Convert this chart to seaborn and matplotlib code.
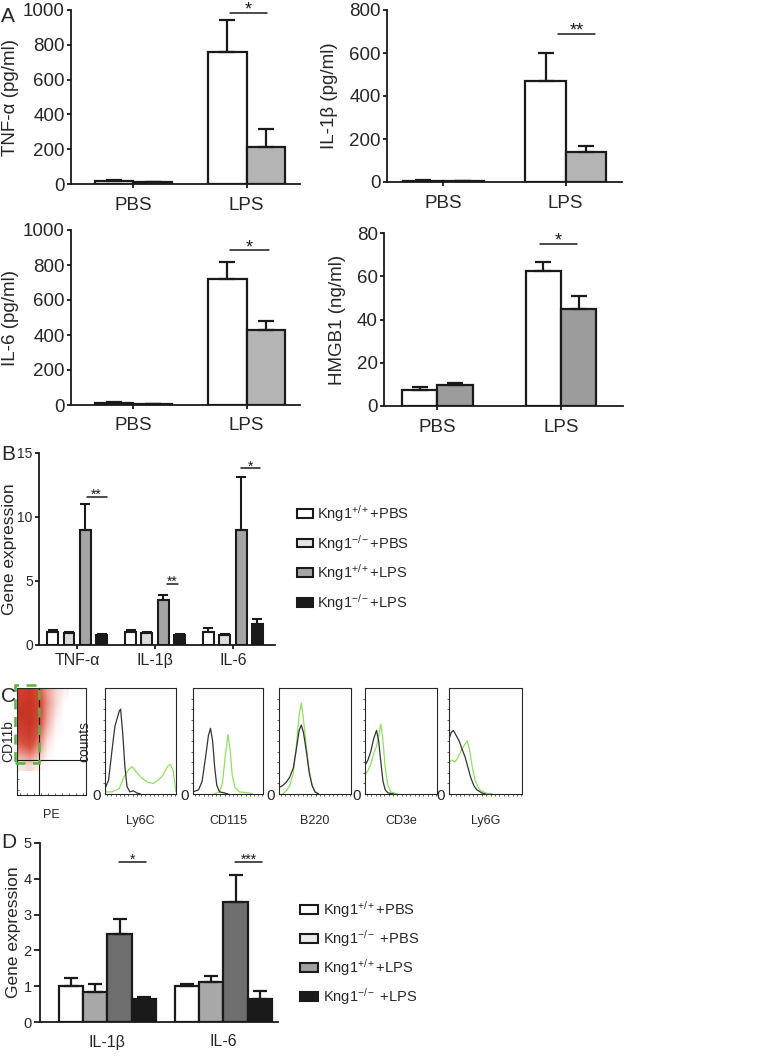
import numpy as np
import pandas as pd
import matplotlib
matplotlib.use("Agg")
import matplotlib.pyplot as plt
import matplotlib.ticker as tic
from matplotlib.patches import Patch, Rectangle
from matplotlib.colors import LinearSegmentedColormap
import seaborn as sns

# ---------------- data ----------------
A_CATS = ["PBS", "LPS"]
A_GROUPS = ["Kng1+/+", "Kng1-/-"]

TNF_MEAN = [[15, 760], [10, 215]]
TNF_SEM = [[6, 180], [3, 100]]
IL1B_MEAN = [[5, 470], [3, 140]]
IL1B_SEM = [[3, 130], [2, 27]]
IL6_MEAN = [[10, 720], [5, 430]]
IL6_SEM = [[6, 95], [3, 50]]
HMGB1_MEAN = [[7.6, 62.3], [9.5, 45.0]]
HMGB1_SEM = [[1.2, 4.3], [1.0, 6.0]]

B_CATS = ["TNF-α", "IL-1β", "IL-6"]
B_GROUPS = ["Kng1$^{+/+}$+PBS", "Kng1$^{-/-}$+PBS", "Kng1$^{+/+}$+LPS", "Kng1$^{-/-}$+LPS"]
B_MEAN = [[1.05, 1.05, 1.0], [0.9, 0.9, 0.8], [9.0, 3.55, 9.0], [0.8, 0.8, 1.65]]
B_SEM = [[0.1, 0.1, 0.3], [0.1, 0.1, 0.05], [2.0, 0.35, 4.1], [0.05, 0.05, 0.35]]

D_CATS = ["IL-1β", "IL-6"]
D_GROUPS = ["Kng1$^{+/+}$+PBS", "Kng1$^{-/-}$ +PBS", "Kng1$^{+/+}$+LPS", "Kng1$^{-/-}$ +LPS"]
D_MEAN = [[1.0, 1.0], [0.85, 1.12], [2.47, 3.35], [0.63, 0.64]]
D_SEM = [[0.22, 0.06], [0.22, 0.16], [0.4, 0.77], [0.06, 0.23]]

# significance: (left x, right x, y, label) in data units
TNF_SIG = [(0.85, 1.18, 985, "*")]
IL1B_SIG = [(0.94, 1.24, 690, "**")]
IL6_SIG = [(0.85, 1.2, 885, "*")]
HMGB1_SIG = [(0.83, 1.13, 75, "*")]
B_SIG = [(0.12, 0.38, 11.6, "**"), (1.15, 1.3, 4.8, "**"), (2.1, 2.35, 13.8, "*")]
D_SIG = [(0.1, 0.33, 4.47, "*"), (1.1, 1.33, 4.47, "***")]

# flow cytometry, panel C
DOT_DENSITY = [
    [0.85, 0.95, 0.7, 0.35, 0.15, 0.05],
    [0.95, 1.0, 0.8, 0.4, 0.15, 0.0],
    [1.0, 1.0, 0.8, 0.35, 0.1, 0.0],
    [0.9, 1.0, 0.75, 0.3, 0.05, 0.0],
    [0.8, 0.9, 0.6, 0.2, 0.02, 0.0],
    [0.6, 0.75, 0.45, 0.1, 0.0, 0.0],
    [0.35, 0.45, 0.25, 0.05, 0.0, 0.0],
    [0.1, 0.15, 0.05, 0.0, 0.0, 0.0],
]
HIST_MARKERS = ["Ly6C", "CD115", "B220", "CD3e", "Ly6G"]
HIST_BLACK = [
    ([0, 0.05, 0.1, 0.14, 0.2, 0.22, 0.25, 0.28, 0.31, 0.35, 0.4, 0.45, 0.5],
     [0.05, 0.13, 0.42, 0.64, 0.78, 0.8, 0.57, 0.26, 0.07, 0.02, 0.03, 0.01, 0.0]),
    ([0, 0.08, 0.13, 0.18, 0.22, 0.25, 0.28, 0.31, 0.34, 0.38, 0.45, 0.5],
     [0.02, 0.04, 0.12, 0.35, 0.55, 0.62, 0.5, 0.25, 0.08, 0.02, 0.01, 0.0]),
    ([0, 0.05, 0.1, 0.15, 0.2, 0.24, 0.28, 0.31, 0.34, 0.38, 0.42, 0.46, 0.5, 0.55],
     [0.06, 0.08, 0.11, 0.16, 0.25, 0.42, 0.6, 0.65, 0.58, 0.4, 0.2, 0.08, 0.02, 0.0]),
    ([0, 0.04, 0.08, 0.12, 0.16, 0.19, 0.22, 0.25, 0.28, 0.32, 0.4],
     [0.27, 0.32, 0.4, 0.52, 0.6, 0.5, 0.3, 0.12, 0.04, 0.01, 0.0]),
    ([0, 0.03, 0.06, 0.1, 0.14, 0.18, 0.22, 0.26, 0.3, 0.34, 0.38, 0.45, 0.5],
     [0.52, 0.58, 0.6, 0.55, 0.5, 0.42, 0.35, 0.25, 0.15, 0.08, 0.04, 0.01, 0.0]),
]
HIST_GREEN = [
    ([0, 0.1, 0.2, 0.26, 0.32, 0.38, 0.45, 0.52, 0.6, 0.68, 0.75, 0.82, 0.88, 0.92, 0.96, 1.0],
     [0.02, 0.02, 0.05, 0.15, 0.22, 0.26, 0.2, 0.15, 0.11, 0.1, 0.13, 0.18, 0.26, 0.28, 0.22, 0.02]),
    ([0.3, 0.38, 0.42, 0.46, 0.5, 0.53, 0.56, 0.6, 0.66, 0.8, 0.85],
     [0.0, 0.02, 0.1, 0.35, 0.56, 0.42, 0.18, 0.06, 0.02, 0.01, 0.0]),
    ([0.05, 0.1, 0.15, 0.2, 0.24, 0.28, 0.31, 0.34, 0.38, 0.42, 0.46, 0.5, 0.55],
     [0.0, 0.03, 0.08, 0.2, 0.45, 0.75, 0.86, 0.7, 0.45, 0.22, 0.08, 0.02, 0.0]),
    ([0, 0.04, 0.08, 0.12, 0.16, 0.19, 0.22, 0.25, 0.28, 0.32, 0.36, 0.45],
     [0.18, 0.22, 0.28, 0.38, 0.45, 0.55, 0.66, 0.5, 0.25, 0.08, 0.02, 0.0]),
    ([0, 0.04, 0.08, 0.12, 0.16, 0.2, 0.25, 0.28, 0.32, 0.36, 0.42, 0.5, 0.6],
     [0.3, 0.32, 0.3, 0.34, 0.4, 0.45, 0.5, 0.42, 0.25, 0.12, 0.04, 0.01, 0.0]),
]

W, H = 769, 1056
INK = "#1a1a1a"

sns.set_style("ticks")
plt.rcParams["font.family"] = ["Liberation Sans", "DejaVu Sans"]
plt.rcParams["mathtext.fontset"] = "custom"
plt.rcParams["mathtext.rm"] = "Liberation Sans"
plt.rcParams["mathtext.it"] = "Liberation Sans"
plt.rcParams["mathtext.default"] = "regular"


def rect(l, t, r, b):
    return [l / W, 1 - b / H, (r - l) / W, (b - t) / H]


def style_axis(ax, fs, lw=1.3):
    sns.despine(ax=ax)
    for s in ["left", "bottom"]:
        ax.spines[s].set_linewidth(lw)
        ax.spines[s].set_color(INK)
    ax.tick_params(axis="both", labelsize=fs, width=lw, color=INK)


def draw_bars(ax, cats, groups, means, sems, colors, width, gap, cap, lw=1.5):
    rows = []
    for gi, g in enumerate(groups):
        for ci, c in enumerate(cats):
            rows.append({"cat": c, "grp": g, "val": means[gi][ci]})
    df = pd.DataFrame(rows)
    sns.barplot(data=df, x="cat", y="val", hue="grp", order=cats, hue_order=groups,
                palette=colors, width=width, gap=gap, errorbar=None, legend=False,
                edgecolor=INK, linewidth=lw, saturation=1, ax=ax)
    for container, sem_row in zip(ax.containers, sems):
        for bar, e in zip(container, sem_row):
            x = bar.get_x() + bar.get_width() / 2
            h = bar.get_height()
            ax.errorbar([x], [h], yerr=[[0], [e]], fmt="none", ecolor=INK,
                        elinewidth=lw, capsize=cap, capthick=lw, zorder=3)


def draw_sig(ax, sigs, fs):
    for x0, x1, y, lab in sigs:
        ax.plot([x0, x1], [y, y], color=INK, lw=1.1, clip_on=False)
        ax.annotate(lab, xy=((x0 + x1) / 2, y), xytext=(0, -1.5), textcoords="offset points",
                    ha="center", va="baseline", fontsize=fs, color=INK, annotation_clip=False)


fig = plt.figure(figsize=(W / 100, H / 100), dpi=100)

# ---------------- panel A ----------------
a_panels = [
    ((71, 10, 300, 184), TNF_MEAN, TNF_SEM, TNF_SIG, 1000, 200, "TNF-α (pg/ml)", "#b4b4b4", 0.68, (-0.55, 1.47), 3),
    ((387, 10, 622, 182), IL1B_MEAN, IL1B_SEM, IL1B_SIG, 800, 200, "IL-1β (pg/ml)", "#b4b4b4", 0.66, (-0.46, 1.46), 8),
    ((71, 230, 300, 405), IL6_MEAN, IL6_SEM, IL6_SIG, 1000, 200, "IL-6 (pg/ml)", "#b4b4b4", 0.68, (-0.55, 1.47), 3),
    ((384, 233, 623, 406), HMGB1_MEAN, HMGB1_SEM, HMGB1_SIG, 80, 20, "HMGB1 (ng/ml)", "#9c9c9c", 0.57, (-0.43, 1.5), 8),
]
for box, mean, sem, sig, ymax, ystep, ylab, grey, width, xlim, lpad in a_panels:
    ax = fig.add_axes(rect(*box))
    draw_bars(ax, A_CATS, A_GROUPS, mean, sem, ["white", grey], width, 0, 5.5, lw=1.6)
    ax.set_ylim(0, ymax)
    ax.set_xlim(*xlim)
    ax.yaxis.set_major_locator(tic.MultipleLocator(ystep))
    style_axis(ax, 13.5)
    ax.tick_params(axis="y", length=3, pad=1.5)
    ax.tick_params(axis="x", length=3, pad=6)
    ax.set_xlabel("")
    ax.set_ylabel(ylab, fontsize=13.5, labelpad=lpad)
    draw_sig(ax, sig, 13)
fig.text(1 / W, 1 - 17 / H, "A", fontsize=15, va="center", ha="left")

# ---------------- panel B ----------------
axb = fig.add_axes(rect(39, 453, 275, 645))
draw_bars(axb, B_CATS, B_GROUPS, B_MEAN, B_SEM,
          ["white", "#dcdcdc", "#a4a4a4", INK], 0.84, 0.33, 3.5, lw=1.5)
axb.set_ylim(0, 15)
axb.set_xlim(-0.49, 2.54)
axb.yaxis.set_major_locator(tic.MultipleLocator(5))
style_axis(axb, 10)
axb.tick_params(axis="y", length=3, pad=1.5)
axb.tick_params(axis="x", length=3, pad=3, labelsize=11.5)
axb.set_xlabel("")
axb.set_ylabel("Gene expression", fontsize=12.5)
axb.yaxis.set_label_coords(-0.092, 0.5)
draw_sig(axb, B_SIG, 10)
handles = [Patch(facecolor=c, edgecolor=INK, linewidth=1.5)
           for c in ["white", "#e6e6e6", "#a4a4a4", INK]]
axb.legend(handles, B_GROUPS, loc="upper left", bbox_to_anchor=(297 / W, 1 - 503 / H),
           bbox_transform=fig.transFigure, frameon=False, borderpad=0, borderaxespad=0,
           fontsize=10.5, handlelength=1.1, handleheight=0.55, handletextpad=0.3,
           labelspacing=0.6)
fig.text(1 / W, 1 - 455 / H, "B", fontsize=15, va="center", ha="left")

# ---------------- panel C ----------------
red_cmap = LinearSegmentedColormap.from_list("dots", ["white", "#eca49a", "#d85040", "#c83424"])
axs = fig.add_axes(rect(17, 688, 86, 795))
axs.imshow(np.array(DOT_DENSITY), extent=[0, 0.75, 0.22, 1.0], cmap=red_cmap,
           vmin=0, vmax=1, interpolation="bilinear", aspect="auto", zorder=1)
axs.set_xlim(0, 1)
axs.set_ylim(0, 1)
axs.axvline(0.32, color=INK, lw=0.8, zorder=2)
axs.axhline(0.33, color=INK, lw=0.8, zorder=2)
axs.add_patch(Rectangle((-0.03, 0.30), 0.35, 0.73, fill=False, ls=(0, (4, 3)),
                        lw=1.8, edgecolor="#5cb040", clip_on=False, zorder=3))
axs.set_xticks(np.arange(0.05, 1.0, 0.1))
axs.set_yticks(np.arange(0.05, 1.0, 0.1))
axs.tick_params(length=1.5, width=0.5, direction="in", labelbottom=False, labelleft=False)
for s in axs.spines.values():
    s.set_linewidth(0.8)
axs.set_xlabel("PE", fontsize=9, labelpad=10)
axs.set_ylabel("CD11b", fontsize=10, labelpad=1)

hist_boxes = [(105, 176), (193, 263), (279, 351), (365, 437), (449, 522)]
for i, (l, r) in enumerate(hist_boxes):
    axh = fig.add_axes(rect(l, 688, r, 794))
    bx, by = HIST_BLACK[i]
    gx, gy = HIST_GREEN[i]
    sns.lineplot(x=gx, y=gy, color="#8fe060", lw=0.9, ax=axh)
    sns.lineplot(x=bx, y=by, color="#333333", lw=0.9, ax=axh)
    axh.set_xlim(0, 1)
    axh.set_ylim(0, 1)
    axh.set_yticks([0])
    axh.set_yticklabels(["0"])
    axh.set_yticks(np.arange(0.1, 1.0, 0.1), minor=True)
    axh.set_xticks(np.arange(0.03, 1.0, 0.06), minor=True)
    axh.set_xticks([])
    axh.tick_params(axis="y", labelsize=11, length=0, pad=3)
    axh.tick_params(which="minor", length=1.5, width=0.5)
    for s in axh.spines.values():
        s.set_linewidth(0.8)
    axh.set_xlabel(HIST_MARKERS[i], fontsize=9, labelpad=10)
    axh.set_ylabel("counts" if i == 0 else "", fontsize=10, labelpad=1)
fig.text(1 / W, 1 - 697 / H, "C", fontsize=15, va="center", ha="left")

# ---------------- panel D ----------------
axd = fig.add_axes(rect(40, 843, 278, 1022))
draw_bars(axd, D_CATS, D_GROUPS, D_MEAN, D_SEM,
          ["white", "#a8a8a8", "#6e6e6e", INK], 0.84, 0, 5, lw=1.6)
axd.set_ylim(0, 5)
axd.set_xlim(-0.58, 1.47)
axd.yaxis.set_major_locator(tic.MultipleLocator(1))
style_axis(axd, 10.5)
axd.tick_params(axis="y", length=4, pad=2)
axd.tick_params(axis="x", labelsize=11.5, length=0, pad=9)
axd.set_xlabel("")
axd.set_ylabel("Gene expression", fontsize=12.5)
axd.yaxis.set_label_coords(-0.08, 0.5)
draw_sig(axd, D_SIG, 10)
handles = [Patch(facecolor=c, edgecolor=INK, linewidth=1.5)
           for c in ["white", "#ececec", "#a0a0a0", INK]]
axd.legend(handles, D_GROUPS, loc="upper left", bbox_to_anchor=(300 / W, 1 - 899 / H),
           bbox_transform=fig.transFigure, frameon=False, borderpad=0, borderaxespad=0,
           fontsize=10.5, handlelength=1.25, handleheight=0.62, handletextpad=0.3,
           labelspacing=0.55)
fig.text(1 / W, 1 - 843 / H, "D", fontsize=15, va="center", ha="left")

fig.savefig("out.png", dpi=100)
